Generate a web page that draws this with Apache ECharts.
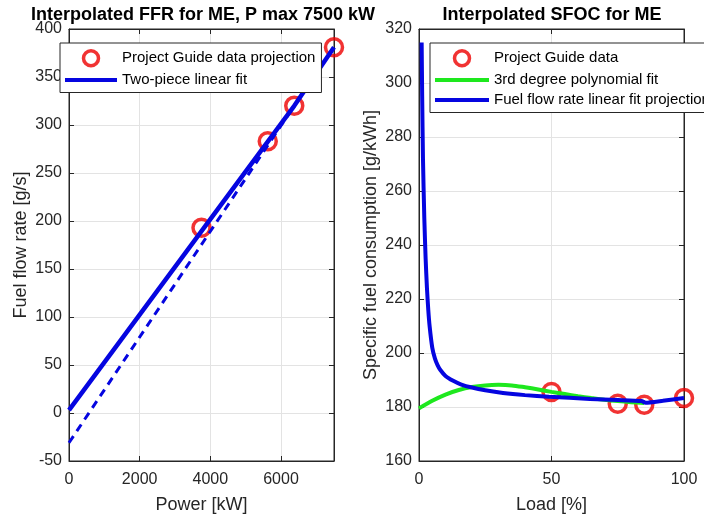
<!DOCTYPE html>
<html><head><meta charset="utf-8">
<script src="https://cdn.jsdelivr.net/npm/echarts@6/dist/echarts.min.js"></script>
<style>html,body{margin:0;padding:0;background:#fff}#c{width:704px;height:514px}</style>
</head><body><div id="c"></div>
<script>
// ---- Left panel: fuel flow rate vs power ----
const ffrPowerKW = [3750, 5625, 6375, 7500];
const ffrGps = [193, 283, 320, 381];
const twoPieceFit = [[0, 3], [6375, 320], [7500, 381]];
const dashedExtension = [[0, -31], [6375, 320]];
const leftXAxis = [0, 7500, 2000];   // min, max, interval
const leftYAxis = [-50, 400, 50];

// ---- Right panel: SFOC vs load ----
const loadPct = [50, 75, 85, 100];
const sfocGkWh = [185.6, 181.2, 180.8, 183.3];
const polyFit = [[0,179.5],[5,182.3],[10,184.6],[15,186.3],[20,187.4],[25,188],[30,188.2],[35,188],[40,187.3],[45,186.5],[50,185.6],[55,184.8],[60,184.0],[65,183.3],[70,182.7],[75,182.2],[80,181.8],[85,181.5]];
const ffrProjection = [[1.0,315],[1.2,295],[1.5,272],[2,250],[2.5,235],[3,224],[3.5,216],[4,210],[5,202],[6,198],[7,195.5],[8,193.8],[10,191.5],[12.9,189.7],[16,188.3],[20,187.2],[25,186.2],[31.7,185.2],[40,184.4],[49,183.8],[64.5,183],[75,182.6],[84,182.2],[85.5,181.6],[92,182.3],[100,183.3]];
const rightXAxis = [0, 100, 50];
const rightYAxis = [160, 320, 20];

const titles = ['Interpolated FFR for ME, P max 7500 kW', 'Interpolated SFOC for ME'];
const axisNames = ['Power [kW]', 'Fuel flow rate [g/s]', 'Load [%]', 'Specific fuel consumption [g/kWh]'];

const FONT = 'Liberation Sans, Arial, Helvetica, sans-serif';
const DARK = '#262626';
const BLUE = '#0505e0';
const GREEN = '#1ee81e';
const RED = '#ee0000';

function mainAxis(range, pos, grid, name, nameGap, isX, extraLabel) {
  return {
    type: 'value', gridIndex: grid, position: pos,
    min: range[0], max: range[1], interval: range[2],
    name: name, nameLocation: 'middle', nameGap: nameGap,
    nameTextStyle: {fontFamily: FONT, fontSize: 18, color: DARK},
    axisLine: {show: true, onZero: false, lineStyle: {color: DARK, width: 1}},
    axisTick: {show: true, inside: true, length: 5, lineStyle: {color: DARK}},
    axisLabel: Object.assign({fontFamily: FONT, fontSize: 16, color: DARK, margin: isX ? 11 : 7,
      formatter: v => String(v)}, extraLabel || {}),
    splitLine: {show: true, lineStyle: {color: '#e3e3e3', width: 1}}
  };
}
function mirrorAxis(range, pos, grid) {
  return {
    type: 'value', gridIndex: grid, position: pos,
    min: range[0], max: range[1], interval: range[2],
    axisLine: {show: true, onZero: false, lineStyle: {color: DARK, width: 1}},
    axisTick: {show: true, inside: true, length: 5, lineStyle: {color: DARK}},
    axisLabel: {show: false}, splitLine: {show: false}
  };
}

const chart = echarts.init(document.getElementById('c'), null, {renderer: 'canvas'});
chart.setOption({
  animation: false,
  backgroundColor: '#fff',
  title: [
    {text: titles[0], left: 203, top: 6, textAlign: 'center', padding: 0,
     textStyle: {fontFamily: FONT, fontSize: 18, fontWeight: 'bold', color: '#000'}},
    {text: titles[1], left: 552, top: 6, textAlign: 'center', padding: 0,
     textStyle: {fontFamily: FONT, fontSize: 18, fontWeight: 'bold', color: '#000'}}
  ],
  grid: [
    {left: 69, right: 370, top: 29, bottom: 53, show: true, borderColor: DARK, borderWidth: 1,
     backgroundColor: '#fff', containLabel: false, outerBoundsMode: 'none'},
    {left: 419, right: 20, top: 29, bottom: 53, show: true, borderColor: DARK, borderWidth: 1,
     backgroundColor: '#fff', containLabel: false, outerBoundsMode: 'none'}
  ],
  xAxis: [
    mainAxis(leftXAxis, 'bottom', 0, axisNames[0], 35, true, {showMaxLabel: false}),
    mainAxis(rightXAxis, 'bottom', 1, axisNames[2], 35, true),
    mirrorAxis(leftXAxis, 'top', 0),
    mirrorAxis(rightXAxis, 'top', 1)
  ],
  yAxis: [
    mainAxis(leftYAxis, 'left', 0, axisNames[1], 39, false),
    mainAxis(rightYAxis, 'left', 1, axisNames[3], 39, false),
    mirrorAxis(leftYAxis, 'right', 0),
    mirrorAxis(rightYAxis, 'right', 1)
  ],
  legend: [
    {left: 60, top: 43, orient: 'vertical', itemWidth: 52, itemHeight: 15, itemGap: 5,
     padding: [6, 6, 5, 5], borderColor: DARK, borderWidth: 1, borderRadius: 0, backgroundColor: '#fff',
     selectedMode: false, textStyle: {fontFamily: FONT, fontSize: 15, color: '#000'},
     data: [
       {name: 'Project Guide data projection', icon: 'circle', itemStyle: {color: 'rgba(0,0,0,0)', borderColor: RED, borderWidth: 3.5}},
       {name: 'Two-piece linear fit', icon: 'path://M0,0L52,0L52,4L0,4Z', itemStyle: {color: BLUE, borderWidth: 0}}
     ]},
    {left: 430, top: 43, orient: 'vertical', itemWidth: 54, itemHeight: 15, itemGap: 5,
     padding: [6, 6, 5, 5], borderColor: DARK, borderWidth: 1, borderRadius: 0, backgroundColor: '#fff',
     selectedMode: false, textStyle: {fontFamily: FONT, fontSize: 15, color: '#000'},
     data: [
       {name: 'Project Guide data', icon: 'circle', itemStyle: {color: 'rgba(0,0,0,0)', borderColor: RED, borderWidth: 3.5}},
       {name: '3rd degree polynomial fit', icon: 'path://M0,0L54,0L54,4L0,4Z', itemStyle: {color: GREEN, borderWidth: 0}},
       {name: 'Fuel flow rate linear fit projection', icon: 'path://M0,0L54,0L54,4L0,4Z', itemStyle: {color: BLUE, borderWidth: 0}}
     ]}
  ],
  series: [
    {name: 'Project Guide data projection', type: 'scatter', xAxisIndex: 0, yAxisIndex: 0,
     data: ffrPowerKW.map((p, i) => [p, ffrGps[i]]), symbol: 'circle', symbolSize: 17,
     itemStyle: {color: 'rgba(0,0,0,0)', borderColor: RED, borderWidth: 3.5}, clip: false, z: 2},
    {name: 'dashed extension', type: 'line', xAxisIndex: 0, yAxisIndex: 0, data: dashedExtension,
     symbol: 'none', lineStyle: {color: BLUE, width: 3, type: [8, 6]}, z: 3},
    {name: 'Two-piece linear fit', type: 'line', xAxisIndex: 0, yAxisIndex: 0, data: twoPieceFit,
     symbol: 'none', lineStyle: {color: BLUE, width: 4.5}, itemStyle: {color: BLUE}, z: 3},

    {name: 'Project Guide data', type: 'scatter', xAxisIndex: 1, yAxisIndex: 1,
     data: loadPct.map((l, i) => [l, sfocGkWh[i]]), symbol: 'circle', symbolSize: 17,
     itemStyle: {color: 'rgba(0,0,0,0)', borderColor: RED, borderWidth: 3.5}, clip: false, z: 2},
    {name: '3rd degree polynomial fit', type: 'line', xAxisIndex: 1, yAxisIndex: 1, data: polyFit,
     symbol: 'none', smooth: 0.3, lineStyle: {color: GREEN, width: 4}, itemStyle: {color: GREEN}, z: 3},
    {name: 'Fuel flow rate linear fit projection', type: 'line', xAxisIndex: 1, yAxisIndex: 1, data: ffrProjection,
     symbol: 'none', smooth: 0.2, lineStyle: {color: BLUE, width: 4}, itemStyle: {color: BLUE}, z: 3}
  ]
});
</script></body></html>
